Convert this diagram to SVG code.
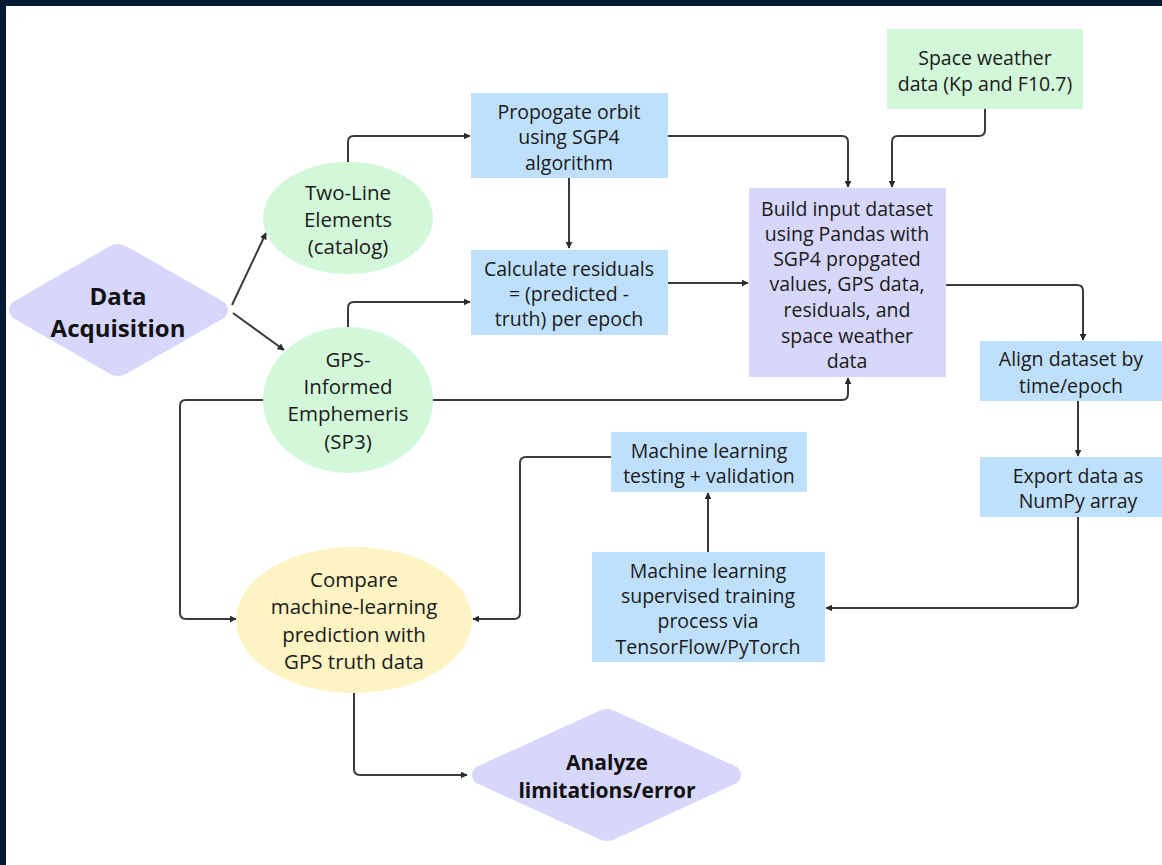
<svg xmlns="http://www.w3.org/2000/svg" width="1162" height="865" viewBox="0 0 1162 865">
<defs>
<style>
.t{font-family:"Open Sans","DejaVu Sans",sans-serif;font-size:19.5px;fill:#1a1a1a;text-anchor:middle;dominant-baseline:central}
.e{font-size:20.5px}
.b{font-weight:bold;fill:#111}
.blue{fill:#bfe0fd}
.green{fill:#d3f8d9}
.purple{fill:#d7d7fb}
.yellow{fill:#fdf3c3}
.c{fill:none;stroke:#3a3a3a;stroke-width:2;marker-end:url(#ah)}
</style>
<marker id="ah" viewBox="0 0 10 10" refX="9" refY="5" markerWidth="3.5" markerHeight="3.5" orient="auto" markerUnits="strokeWidth">
<path d="M0,0 L10,5 L0,10 z" fill="#2a2a2a"/>
</marker>
</defs>
<rect x="0" y="0" width="1162" height="865" fill="#ffffff"/>
<rect x="0" y="0" width="1162" height="6" fill="#021833"/>
<rect x="0" y="0" width="6" height="865" fill="#021833"/>

<g id="connectors">
<path class="c" d="M232,305 L266,233"/>
<path class="c" d="M233,313 L284,350"/>
<path class="c" d="M348,162 V142 Q348,136 354,136 H470"/>
<path class="c" d="M668,136 H842 Q848,136 848,142 V187"/>
<path class="c" d="M985,109 V130 Q985,136 979,136 H898 Q892,136 892,142 V187"/>
<path class="c" d="M569,178 V248"/>
<path class="c" d="M348,327 V308 Q348,302 354,302 H470"/>
<path class="c" d="M668,283 H748"/>
<path class="c" d="M946,285 H1077 Q1083,285 1083,291 V340"/>
<path class="c" d="M433,400 H842 Q848,400 848,394 V378"/>
<path class="c" d="M263,400 H186 Q180,400 180,406 V613 Q180,619 186,619 H236"/>
<path class="c" d="M1078,401 V456"/>
<path class="c" d="M1078,517 V602 Q1078,608 1072,608 H826"/>
<path class="c" d="M708,552 V493"/>
<path class="c" d="M611,457 H526 Q520,457 520,463 V613 Q520,619 514,619 H473"/>
<path class="c" d="M354,692 V769 Q354,775 360,775 H467"/>
</g>

<g id="data-acquisition">
<path class="purple" d="M110,246 Q118,242 126,246 L224,302 Q232,310 224,318 L126,374 Q118,378 110,374 L13,318 Q5,310 13,302 Z"/>
<text class="t b" x="118" y="295" style="font-size:24px">Data</text>
<text class="t b" x="118" y="327" style="font-size:24px">Acquisition</text>
</g>

<g id="two-line-elements">
<ellipse class="green" cx="348" cy="218" rx="85" ry="56"/>
<text class="t e" x="348" y="192">Two-Line</text>
<text class="t e" x="348" y="219">Elements</text>
<text class="t e" x="348" y="246">(catalog)</text>
</g>

<g id="gps-ephemeris">
<ellipse class="green" cx="348" cy="400" rx="85" ry="73"/>
<text class="t e" x="348" y="359">GPS-</text>
<text class="t e" x="348" y="386">Informed</text>
<text class="t e" x="348" y="413">Emphemeris</text>
<text class="t e" x="348" y="441">(SP3)</text>
</g>

<g id="propagate">
<rect class="blue" x="471" y="93" width="197" height="85"/>
<text class="t" x="569" y="111">Propogate orbit</text>
<text class="t" x="569" y="136">using SGP4</text>
<text class="t" x="569" y="162">algorithm</text>
</g>

<g id="residuals">
<rect class="blue" x="471" y="250" width="197" height="85"/>
<text class="t" x="569" y="268">Calculate residuals</text>
<text class="t" x="569" y="293">= (predicted -</text>
<text class="t" x="569" y="318">truth) per epoch</text>
</g>

<g id="space-weather">
<rect class="green" x="887" y="29" width="196" height="80"/>
<text class="t" x="985" y="57">Space weather</text>
<text class="t" x="985" y="83">data (Kp and F10.7)</text>
</g>

<g id="build-dataset">
<rect class="purple" x="749" y="188" width="197" height="189"/>
<text class="t" x="847" y="208">Build input dataset</text>
<text class="t" x="847" y="233">using Pandas with</text>
<text class="t" x="847" y="258">SGP4 propgated</text>
<text class="t" x="847" y="283">values, GPS data,</text>
<text class="t" x="847" y="309">residuals, and</text>
<text class="t" x="847" y="335">space weather</text>
<text class="t" x="847" y="360">data</text>
</g>

<g id="align">
<rect class="blue" x="980" y="341" width="182" height="60"/>
<text class="t" x="1071" y="358">Align dataset by</text>
<text class="t" x="1071" y="385">time/epoch</text>
</g>

<g id="export">
<rect class="blue" x="980" y="457" width="182" height="60"/>
<text class="t" x="1078" y="475">Export data as</text>
<text class="t" x="1078" y="500">NumPy array</text>
</g>

<g id="ml-testing">
<rect class="blue" x="611" y="432" width="196" height="60"/>
<text class="t" x="709" y="450">Machine learning</text>
<text class="t" x="709" y="475">testing + validation</text>
</g>

<g id="ml-training">
<rect class="blue" x="592" y="552" width="233" height="110"/>
<text class="t" x="708" y="570">Machine learning</text>
<text class="t" x="708" y="595">supervised training</text>
<text class="t" x="708" y="620">process via</text>
<text class="t" x="708" y="646">TensorFlow/PyTorch</text>
</g>

<g id="compare">
<ellipse class="yellow" cx="354" cy="620" rx="118" ry="73"/>
<text class="t e" x="354" y="579">Compare</text>
<text class="t e" x="354" y="606">machine-learning</text>
<text class="t e" x="354" y="634">prediction with</text>
<text class="t e" x="354" y="661">GPS truth data</text>
</g>

<g id="analyze">
<path class="purple" d="M599,711 Q607,707 615,711 L737,767 Q745,775 737,783 L615,839 Q607,843 599,839 L476,783 Q468,775 476,767 Z"/>
<text class="t b" x="607" y="762" style="font-size:21px">Analyze</text>
<text class="t b" x="607" y="790" style="font-size:21px">limitations/error</text>
</g>
</svg>
